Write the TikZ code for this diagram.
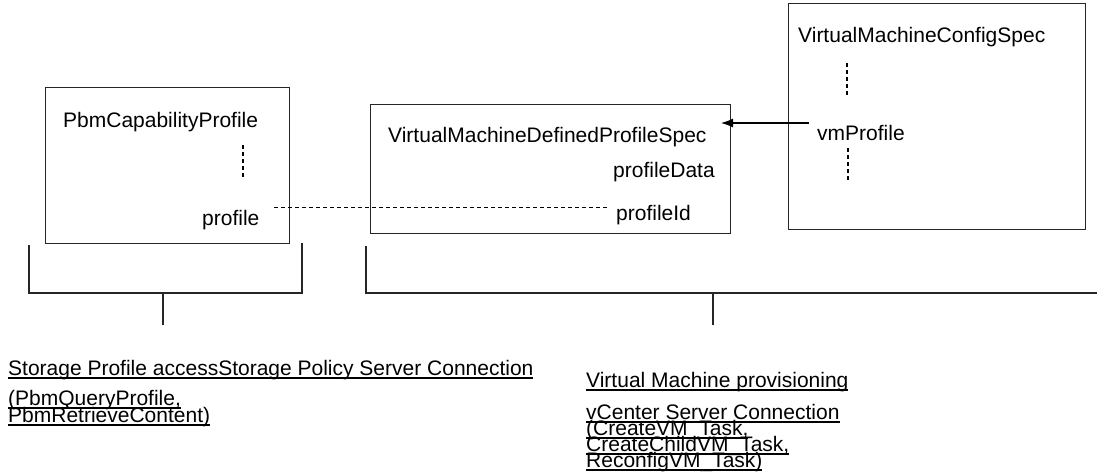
\documentclass[tikz,border=0pt]{standalone}
\usepackage{fontspec}
\setmainfont{Liberation Sans}
\usetikzlibrary{arrows.meta}

\newcommand{\ultext}[1]{\setbox0=\hbox{#1}\rlap{\rule[-4pt]{\wd0}{1.8pt}}\box0}

\tikzset{
  objbox/.style={draw=black!85,line width=1.2pt,inner sep=0,anchor=north west},
  lbl/.style={anchor=base west,inner sep=0,font=\fontsize{21}{16}\selectfont},
  vdots/.style={line width=2.2pt,dash pattern=on 4pt off 3pt},
  idlink/.style={line width=1pt,dash pattern=on 4pt off 3pt},
  grp/.style={draw=black!85,line width=1.2pt}
}

\begin{document}
\begin{tikzpicture}[x=1pt,y=-1pt]
\useasboundingbox (0,0) rectangle (1097,474);
%\draw[help lines,step=50] (0,0) grid (1097,474);

\node[objbox,minimum width=244pt,minimum height=156pt] (capbox) at (45,87) {};
\node[lbl] (captitle) at (63,127) {PbmCapabilityProfile};
\draw[vdots] (243,145) -- (243,178);
\node[lbl] (prof) at (202,225) {profile};

\node[objbox,minimum width=360pt,minimum height=129pt] (specbox) at (370,104) {};
\node[lbl] (spectitle) at (388,142) {VirtualMachineDefinedProfileSpec};
\node[lbl] (pdata) at (613,177) {profileData};
\node[lbl] (pid) at (616,220) {profileId};

\node[objbox,minimum width=297pt,minimum height=226pt] (cfgbox) at (788,3) {};
\node[lbl] (cfgtitle) at (798,42) {VirtualMachineConfigSpec};
\draw[vdots] (847,63) -- (847,97);
\node[lbl] (vmp) at (817,140) {vmProfile};
\draw[vdots] (848,148) -- (848,182);

\coordinate (idL) at (274,207);
\coordinate (idR) at (607,207);
\draw[idlink] (idL) -- (idR);

\coordinate (vmS) at (809,123);
\coordinate (vmE) at (721,123);
\draw[line width=1.2pt,-{Latex[length=12pt,width=9pt]}] (vmS) -- (vmE);

\draw[grp] (29,245) |- (302,293) -- (302,243);
\draw[grp] (163,293) -- (163,325);
\draw[grp] (366,246) |- (1097,293);
\draw[grp] (713,293) -- (713,325);

\node[lbl] (acc1) at (8,375) {\ultext{Storage Profile accessStorage Policy Server Connection}};
\node[lbl] (acc2) at (8,405) {\ultext{(PbmQueryProfile,}};
\node[lbl] (acc3) at (8,422) {\ultext{PbmRetrieveContent)}};

\node[lbl] (prov1) at (586,387) {\ultext{Virtual Machine provisioning}};
\node[lbl] (prov2) at (586,419) {\ultext{vCenter Server Connection}};
\node[lbl] (prov3) at (586,435) {\ultext{(CreateVM\_Task,}};
\node[lbl] (prov4) at (586,451) {\ultext{CreateChildVM\_Task,}};
\node[lbl] (prov5) at (586,467) {\ultext{ReconfigVM\_Task)}};
\end{tikzpicture}
\end{document}
